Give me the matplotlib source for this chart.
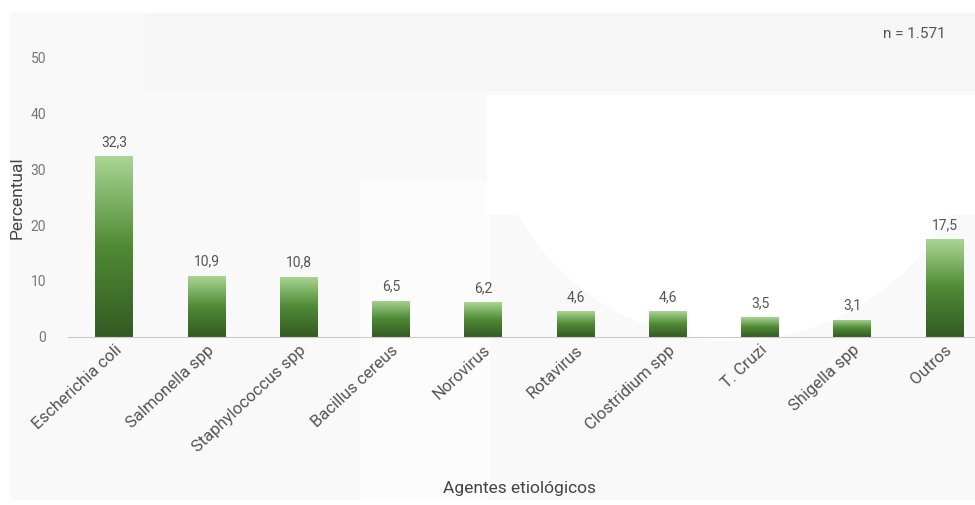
import matplotlib.pyplot as plt
import numpy as np
from matplotlib.colors import LinearSegmentedColormap
from matplotlib.patches import Rectangle, Wedge

# agentes etiologicos e percentuais
agentes = ["Escherichia coli", "Salmonella spp", "Staphylococcus spp", "Bacillus cereus",
           "Norovirus", "Rotavirus", "Clostridium spp", "T. Cruzi", "Shigella spp", "Outros"]
percentual = [32.3, 10.9, 10.8, 6.5, 6.2, 4.6, 4.6, 3.5, 3.1, 17.5]
yticks = [0, 10, 20, 30, 40, 50]
total_n = "n = 1.571"

plt.rcParams['font.family'] = ['Roboto', 'DejaVu Sans']

fig = plt.figure(figsize=(9.75, 5.05), dpi=100)
fig.patch.set_facecolor("white")

# faint watermark shapes behind the chart (pixel coordinates)
bg = fig.add_axes([0, 0, 1, 1], zorder=-5)
bg.set_xlim(0, 975)
bg.set_ylim(505, 0)
bg.axis("off")
bg.add_patch(Rectangle((10, 13), 965, 487, color="#f9f9f9", lw=0))
bg.add_patch(Rectangle((145, 13), 830, 78, color="#f6f6f6", lw=0))
bg.add_patch(Rectangle((360, 180), 130, 320, color="#fcfcfc", lw=0))
bg.add_patch(Rectangle((487, 95), 488, 120, color="white", lw=0))
bg.add_patch(Wedge((733, 95), 246, 0, 180, color="white", lw=0))

ax = fig.add_axes([0.070, 0.333, 0.930, 0.553])
ax.set_facecolor("none")

x = np.arange(len(agentes))
bars = ax.bar(x, percentual, width=0.41, color="none", edgecolor="none")

# green gradient inside each bar
cmap = LinearSegmentedColormap.from_list("verde", ["#345a23", "#4f8a35", "#aad693"])
grad = np.linspace(0, 1, 256).reshape(-1, 1)
for b in bars:
    x0, w, h = b.get_x(), b.get_width(), b.get_height()
    im = ax.imshow(grad, extent=[x0, x0 + w, 0, h], origin="lower", cmap=cmap,
                   aspect="auto", zorder=2)
    im.set_clip_path(b)

for xi, v in zip(x, percentual):
    ax.text(xi, v + 1.3, f"{v:.1f}".replace(".", ","), ha="center", va="bottom",
            fontsize=10, color="#555555")

ax.set_xlim(-0.5, 9.33)
ax.set_ylim(0, 50)
ax.set_yticks(yticks)
ax.set_xticks(x)
ax.set_xticklabels(agentes, rotation=43, ha="right", rotation_mode="anchor",
                   fontsize=12, color="#555555")
ax.tick_params(axis="x", length=0, pad=4)
ax.tick_params(axis="y", length=0, pad=16, labelsize=10, labelcolor="#777777")
for s in ["top", "right", "left"]:
    ax.spines[s].set_visible(False)
ax.spines["bottom"].set_color("#cccccc")
ax.spines["bottom"].set_zorder(3)

ax.set_ylabel("Percentual", fontsize=12.5, color="#444444", labelpad=4)
fig.text(0.533, 0.033, "Agentes etiológicos", ha="center", va="center",
         fontsize=12.5, color="#444444")
fig.text(0.970, 0.932, total_n, ha="right", va="center", fontsize=11, color="#555555")

fig.savefig("out.png", dpi=100)
